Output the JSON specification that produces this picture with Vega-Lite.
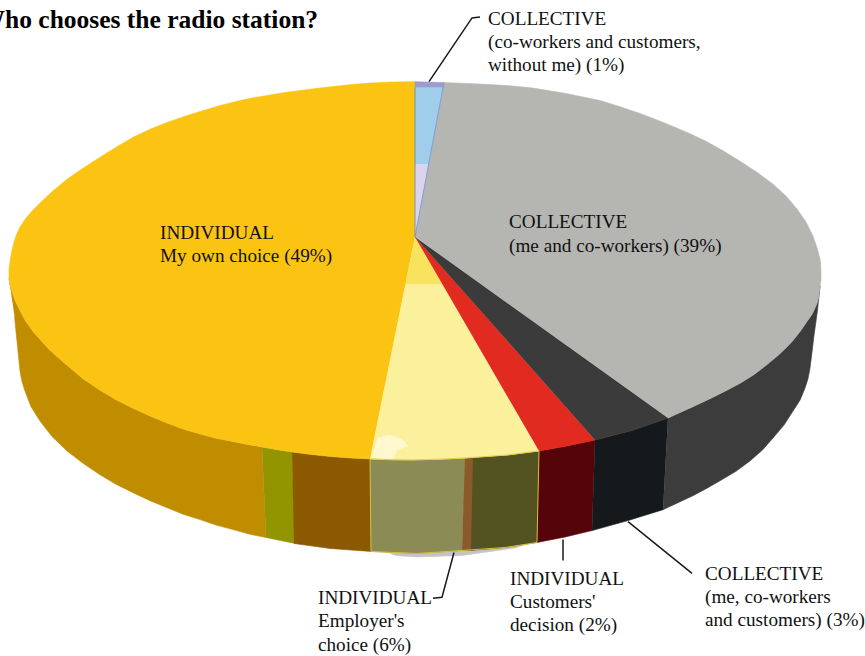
{
"$schema":"https://vega.github.io/schema/vega-lite/v6.json",
"width":865,"height":656,"padding":0,
"autosize":{"type":"fit","contains":"padding"},
"background":"white",
"config":{"view":{"stroke":null}},
"datasets":{
"surfaces":[
{"part":"shadow","seq":0,"x":385,"y":554},{"part":"shadow","seq":1,"x":417,"y":556},{"part":"shadow","seq":2,"x":462,"y":553},{"part":"shadow","seq":3,"x":525,"y":547},{"part":"shadow","seq":4,"x":515,"y":550.5},{"part":"shadow","seq":5,"x":462,"y":558},{"part":"shadow","seq":6,"x":417,"y":559.5},{"part":"shadow","seq":7,"x":395,"y":558},
{"part":"side own choice","seq":0,"x":9,"y":280},{"part":"side own choice","seq":1,"x":10.3,"y":287},{"part":"side own choice","seq":2,"x":12,"y":293},{"part":"side own choice","seq":3,"x":15.5,"y":303},{"part":"side own choice","seq":4,"x":20,"y":312},{"part":"side own choice","seq":5,"x":25.5,"y":322.5},{"part":"side own choice","seq":6,"x":33,"y":333},{"part":"side own choice","seq":7,"x":49,"y":351},{"part":"side own choice","seq":8,"x":67,"y":367},{"part":"side own choice","seq":9,"x":83,"y":380.5},{"part":"side own choice","seq":10,"x":100,"y":392},{"part":"side own choice","seq":11,"x":116,"y":401.5},{"part":"side own choice","seq":12,"x":133,"y":410},{"part":"side own choice","seq":13,"x":150,"y":418},{"part":"side own choice","seq":14,"x":167,"y":425},{"part":"side own choice","seq":15,"x":183,"y":431},{"part":"side own choice","seq":16,"x":200,"y":436},{"part":"side own choice","seq":17,"x":215,"y":440},{"part":"side own choice","seq":18,"x":230,"y":443},{"part":"side own choice","seq":19,"x":246,"y":446.2},{"part":"side own choice","seq":20,"x":262,"y":449},
{"part":"side own choice","seq":21,"x":266,"y":540},{"part":"side own choice","seq":22,"x":249,"y":536.5},{"part":"side own choice","seq":23,"x":233,"y":532},{"part":"side own choice","seq":24,"x":216,"y":527.5},{"part":"side own choice","seq":25,"x":200,"y":522},{"part":"side own choice","seq":26,"x":183,"y":516.5},{"part":"side own choice","seq":27,"x":167,"y":510},{"part":"side own choice","seq":28,"x":150,"y":503},{"part":"side own choice","seq":29,"x":133,"y":495},{"part":"side own choice","seq":30,"x":116,"y":486.5},{"part":"side own choice","seq":31,"x":100,"y":477},{"part":"side own choice","seq":32,"x":83,"y":465.5},{"part":"side own choice","seq":33,"x":67,"y":453},{"part":"side own choice","seq":34,"x":52,"y":438.5},{"part":"side own choice","seq":35,"x":40,"y":423},{"part":"side own choice","seq":36,"x":31,"y":408.5},{"part":"side own choice","seq":37,"x":25,"y":393},{"part":"side own choice","seq":38,"x":22,"y":383.5},{"part":"side own choice","seq":39,"x":20,"y":373},{"part":"side own choice","seq":40,"x":18.5,"y":358},{"part":"side own choice","seq":41,"x":17,"y":343},{"part":"side own choice","seq":42,"x":14.5,"y":318},
{"part":"side green","seq":0,"x":262,"y":449},{"part":"side green","seq":1,"x":277,"y":451.8},{"part":"side green","seq":2,"x":292,"y":454},{"part":"side green","seq":3,"x":295,"y":546},{"part":"side green","seq":4,"x":266,"y":540},
{"part":"side brown","seq":0,"x":292,"y":454},{"part":"side brown","seq":1,"x":311,"y":456.5},{"part":"side brown","seq":2,"x":330,"y":458.5},{"part":"side brown","seq":3,"x":350,"y":460},{"part":"side brown","seq":4,"x":370,"y":461},{"part":"side brown","seq":5,"x":371,"y":554},{"part":"side brown","seq":6,"x":330,"y":551},{"part":"side brown","seq":7,"x":294,"y":546},
{"part":"side employer","seq":0,"x":370,"y":461},{"part":"side employer","seq":1,"x":392,"y":461.8},{"part":"side employer","seq":2,"x":413,"y":462},{"part":"side employer","seq":3,"x":440,"y":461.3},{"part":"side employer","seq":4,"x":466,"y":460},{"part":"side employer","seq":5,"x":462,"y":553},{"part":"side employer","seq":6,"x":417,"y":556},{"part":"side employer","seq":7,"x":371,"y":554},
{"part":"side stripe","seq":0,"x":465,"y":460},{"part":"side stripe","seq":1,"x":474,"y":459.5},{"part":"side stripe","seq":2,"x":472,"y":553},{"part":"side stripe","seq":3,"x":462,"y":553},
{"part":"side olive","seq":0,"x":473,"y":459.5},{"part":"side olive","seq":1,"x":508,"y":457},{"part":"side olive","seq":2,"x":539,"y":453},{"part":"side olive","seq":3,"x":537,"y":545},{"part":"side olive","seq":4,"x":505,"y":550},{"part":"side olive","seq":5,"x":471,"y":553},
{"part":"side customers","seq":0,"x":539,"y":453},{"part":"side customers","seq":1,"x":567,"y":448},{"part":"side customers","seq":2,"x":595,"y":442},{"part":"side customers","seq":3,"x":592,"y":533},{"part":"side customers","seq":4,"x":565,"y":539.5},{"part":"side customers","seq":5,"x":537,"y":545},
{"part":"side collective front","seq":0,"x":595,"y":442},{"part":"side collective front","seq":1,"x":632,"y":432.5},{"part":"side collective front","seq":2,"x":668,"y":420},{"part":"side collective front","seq":3,"x":663,"y":512},{"part":"side collective front","seq":4,"x":628,"y":523},{"part":"side collective front","seq":5,"x":592,"y":533},
{"part":"side coworkers","seq":0,"x":668,"y":420},{"part":"side coworkers","seq":1,"x":680,"y":414.5},{"part":"side coworkers","seq":2,"x":693,"y":408.5},{"part":"side coworkers","seq":3,"x":710,"y":400.5},{"part":"side coworkers","seq":4,"x":727,"y":392},{"part":"side coworkers","seq":5,"x":741,"y":384.5},{"part":"side coworkers","seq":6,"x":753,"y":377},{"part":"side coworkers","seq":7,"x":765.5,"y":367.5},{"part":"side coworkers","seq":8,"x":777,"y":358},{"part":"side coworkers","seq":9,"x":785.5,"y":350},{"part":"side coworkers","seq":10,"x":793,"y":342},{"part":"side coworkers","seq":11,"x":800.5,"y":332.5},{"part":"side coworkers","seq":12,"x":807,"y":323},{"part":"side coworkers","seq":13,"x":812.5,"y":315},{"part":"side coworkers","seq":14,"x":817,"y":305},{"part":"side coworkers","seq":15,"x":819,"y":297},{"part":"side coworkers","seq":16,"x":820,"y":287},
{"part":"side coworkers","seq":17,"x":817.5,"y":312},{"part":"side coworkers","seq":18,"x":814,"y":337},{"part":"side coworkers","seq":19,"x":812,"y":354},{"part":"side coworkers","seq":20,"x":810,"y":370},{"part":"side coworkers","seq":21,"x":808,"y":380.5},{"part":"side coworkers","seq":22,"x":805,"y":390},{"part":"side coworkers","seq":23,"x":800,"y":402},{"part":"side coworkers","seq":24,"x":793,"y":413},{"part":"side coworkers","seq":25,"x":784,"y":427},{"part":"side coworkers","seq":26,"x":773,"y":440},{"part":"side coworkers","seq":27,"x":762.5,"y":452},{"part":"side coworkers","seq":28,"x":750,"y":463},{"part":"side coworkers","seq":29,"x":736,"y":473.5},{"part":"side coworkers","seq":30,"x":720,"y":483},{"part":"side coworkers","seq":31,"x":707,"y":490.5},{"part":"side coworkers","seq":32,"x":693,"y":498},{"part":"side coworkers","seq":33,"x":678,"y":505},{"part":"side coworkers","seq":34,"x":663,"y":512},
{"part":"top own choice","seq":0,"x":415,"y":238},{"part":"top own choice","seq":1,"x":370,"y":461},{"part":"top own choice","seq":2,"x":350,"y":460},{"part":"top own choice","seq":3,"x":330,"y":458.5},{"part":"top own choice","seq":4,"x":311,"y":456.5},{"part":"top own choice","seq":5,"x":292,"y":454},{"part":"top own choice","seq":6,"x":277,"y":451.8},{"part":"top own choice","seq":7,"x":262,"y":449},{"part":"top own choice","seq":8,"x":246,"y":446.2},{"part":"top own choice","seq":9,"x":230,"y":443},{"part":"top own choice","seq":10,"x":215,"y":440},{"part":"top own choice","seq":11,"x":200,"y":436},{"part":"top own choice","seq":12,"x":183,"y":431},{"part":"top own choice","seq":13,"x":167,"y":425},{"part":"top own choice","seq":14,"x":150,"y":418},{"part":"top own choice","seq":15,"x":133,"y":410},{"part":"top own choice","seq":16,"x":116,"y":401.5},{"part":"top own choice","seq":17,"x":100,"y":392},{"part":"top own choice","seq":18,"x":83,"y":380.5},{"part":"top own choice","seq":19,"x":67,"y":367},{"part":"top own choice","seq":20,"x":49,"y":351},{"part":"top own choice","seq":21,"x":33,"y":333},{"part":"top own choice","seq":22,"x":25.5,"y":322.5},{"part":"top own choice","seq":23,"x":20,"y":312},{"part":"top own choice","seq":24,"x":15.5,"y":303},{"part":"top own choice","seq":25,"x":12,"y":293},{"part":"top own choice","seq":26,"x":10.3,"y":287},{"part":"top own choice","seq":27,"x":9,"y":280},
{"part":"top own choice","seq":28,"x":9,"y":270},{"part":"top own choice","seq":29,"x":10.6,"y":259},{"part":"top own choice","seq":30,"x":13,"y":247},{"part":"top own choice","seq":31,"x":15.9,"y":237.2},{"part":"top own choice","seq":32,"x":20,"y":228},{"part":"top own choice","seq":33,"x":26,"y":219},{"part":"top own choice","seq":34,"x":33,"y":211},{"part":"top own choice","seq":35,"x":41,"y":203},{"part":"top own choice","seq":36,"x":50,"y":194.5},{"part":"top own choice","seq":37,"x":58,"y":187.5},{"part":"top own choice","seq":38,"x":67,"y":180},{"part":"top own choice","seq":39,"x":82.5,"y":169.3},{"part":"top own choice","seq":40,"x":100,"y":158},{"part":"top own choice","seq":41,"x":116.5,"y":147.6},{"part":"top own choice","seq":42,"x":133,"y":138},{"part":"top own choice","seq":43,"x":150,"y":129.9},{"part":"top own choice","seq":44,"x":167,"y":123},{"part":"top own choice","seq":45,"x":183.5,"y":117.3},{"part":"top own choice","seq":46,"x":200,"y":112},{"part":"top own choice","seq":47,"x":220,"y":106.1},{"part":"top own choice","seq":48,"x":240,"y":101},{"part":"top own choice","seq":49,"x":253,"y":98.3},{"part":"top own choice","seq":50,"x":267,"y":96},{"part":"top own choice","seq":51,"x":283,"y":93.3},{"part":"top own choice","seq":52,"x":300,"y":91},{"part":"top own choice","seq":53,"x":316,"y":88.9},{"part":"top own choice","seq":54,"x":333,"y":87},{"part":"top own choice","seq":55,"x":351,"y":85},{"part":"top own choice","seq":56,"x":370,"y":83.5},{"part":"top own choice","seq":57,"x":392,"y":82.4},{"part":"top own choice","seq":58,"x":415,"y":82},
{"part":"top employer","seq":0,"x":415,"y":238},{"part":"top employer","seq":1,"x":539,"y":453},{"part":"top employer","seq":2,"x":508,"y":457},{"part":"top employer","seq":3,"x":466,"y":460},{"part":"top employer","seq":4,"x":440,"y":461.3},{"part":"top employer","seq":5,"x":413,"y":462},{"part":"top employer","seq":6,"x":392,"y":461.8},{"part":"top employer","seq":7,"x":370,"y":461},
{"part":"top employer band","seq":0,"x":415,"y":238},{"part":"top employer band","seq":1,"x":441.5,"y":285},{"part":"top employer band","seq":2,"x":405.7,"y":285},
{"part":"top glare","seq":0,"x":372,"y":460},{"part":"top glare","seq":1,"x":378,"y":440},{"part":"top glare","seq":2,"x":390,"y":437},{"part":"top glare","seq":3,"x":403,"y":442},{"part":"top glare","seq":4,"x":408,"y":448},{"part":"top glare","seq":5,"x":397,"y":452},{"part":"top glare","seq":6,"x":393,"y":461},
{"part":"top customers","seq":0,"x":415,"y":238},{"part":"top customers","seq":1,"x":595,"y":442},{"part":"top customers","seq":2,"x":567,"y":448},{"part":"top customers","seq":3,"x":539,"y":453},
{"part":"top collective front","seq":0,"x":415,"y":238},{"part":"top collective front","seq":1,"x":668,"y":420},{"part":"top collective front","seq":2,"x":632,"y":432.5},{"part":"top collective front","seq":3,"x":595,"y":442},
{"part":"top coworkers","seq":0,"x":415,"y":238},{"part":"top coworkers","seq":1,"x":444,"y":83},{"part":"top coworkers","seq":2,"x":467,"y":83.8},{"part":"top coworkers","seq":3,"x":490,"y":85},{"part":"top coworkers","seq":4,"x":512,"y":86.3},{"part":"top coworkers","seq":5,"x":533,"y":88.5},{"part":"top coworkers","seq":6,"x":566,"y":93.9},{"part":"top coworkers","seq":7,"x":600,"y":101},{"part":"top coworkers","seq":8,"x":620,"y":107.2},{"part":"top coworkers","seq":9,"x":640,"y":114},{"part":"top coworkers","seq":10,"x":656.5,"y":120.3},{"part":"top coworkers","seq":11,"x":673,"y":127},{"part":"top coworkers","seq":12,"x":690,"y":134.3},{"part":"top coworkers","seq":13,"x":707,"y":142.5},{"part":"top coworkers","seq":14,"x":723.5,"y":151.8},{"part":"top coworkers","seq":15,"x":740,"y":162},{"part":"top coworkers","seq":16,"x":757,"y":173},{"part":"top coworkers","seq":17,"x":773,"y":185},{"part":"top coworkers","seq":18,"x":786,"y":197},{"part":"top coworkers","seq":19,"x":797,"y":210},{"part":"top coworkers","seq":20,"x":806,"y":223},{"part":"top coworkers","seq":21,"x":813,"y":237},{"part":"top coworkers","seq":22,"x":817,"y":249},{"part":"top coworkers","seq":23,"x":820,"y":260},{"part":"top coworkers","seq":24,"x":820.8,"y":268},{"part":"top coworkers","seq":25,"x":821,"y":275},{"part":"top coworkers","seq":26,"x":821,"y":281},{"part":"top coworkers","seq":27,"x":820,"y":287},{"part":"top coworkers","seq":28,"x":819,"y":297},{"part":"top coworkers","seq":29,"x":817,"y":305},{"part":"top coworkers","seq":30,"x":812.5,"y":315},{"part":"top coworkers","seq":31,"x":807,"y":323},{"part":"top coworkers","seq":32,"x":800.5,"y":332.5},{"part":"top coworkers","seq":33,"x":793,"y":342},{"part":"top coworkers","seq":34,"x":785.5,"y":350},{"part":"top coworkers","seq":35,"x":777,"y":358},{"part":"top coworkers","seq":36,"x":765.5,"y":367.5},{"part":"top coworkers","seq":37,"x":753,"y":377},{"part":"top coworkers","seq":38,"x":741,"y":384.5},{"part":"top coworkers","seq":39,"x":727,"y":392},{"part":"top coworkers","seq":40,"x":710,"y":400.5},{"part":"top coworkers","seq":41,"x":693,"y":408.5},{"part":"top coworkers","seq":42,"x":680,"y":414.5},{"part":"top coworkers","seq":43,"x":668,"y":420},
{"part":"top lavender","seq":0,"x":415,"y":238},{"part":"top lavender","seq":1,"x":415,"y":165},{"part":"top lavender","seq":2,"x":428.7,"y":165},
{"part":"top blue","seq":0,"x":415,"y":165},{"part":"top blue","seq":1,"x":415,"y":88},{"part":"top blue","seq":2,"x":443,"y":88},{"part":"top blue","seq":3,"x":428.7,"y":165},
{"part":"top purple","seq":0,"x":415,"y":88},{"part":"top purple","seq":1,"x":415,"y":82},{"part":"top purple","seq":2,"x":444,"y":83},{"part":"top purple","seq":3,"x":443,"y":88}
],
"edges":[
{"edge":"wedge blue","seq":0,"x":415,"y":238},{"edge":"wedge blue","seq":1,"x":444,"y":83},
{"edge":"wedge grey","seq":0,"x":415,"y":238},{"edge":"wedge grey","seq":1,"x":415,"y":88},
{"edge":"employer left","seq":0,"x":370,"y":461},{"edge":"employer left","seq":1,"x":371,"y":554},{"edge":"employer left","seq":2,"x":417,"y":556},{"edge":"employer left","seq":3,"x":462,"y":553},{"edge":"employer left","seq":4,"x":505,"y":550},{"edge":"employer left","seq":5,"x":537,"y":545},{"edge":"employer left","seq":6,"x":539,"y":453},
{"edge":"employer top","seq":0,"x":370,"y":461},{"edge":"employer top","seq":1,"x":392,"y":461.8},{"edge":"employer top","seq":2,"x":413,"y":462},{"edge":"employer top","seq":3,"x":440,"y":461.3},{"edge":"employer top","seq":4,"x":466,"y":460},{"edge":"employer top","seq":5,"x":508,"y":457},{"edge":"employer top","seq":6,"x":539,"y":453}
],
"leaders":[
{"label":"co-workers and customers","seq":0,"x":429,"y":82},{"label":"co-workers and customers","seq":1,"x":472,"y":18},{"label":"co-workers and customers","seq":2,"x":480,"y":17},
{"label":"employer","seq":0,"x":454,"y":555},{"label":"employer","seq":1,"x":442,"y":600},{"label":"employer","seq":2,"x":433,"y":601},
{"label":"customers","seq":0,"x":563,"y":542},{"label":"customers","seq":1,"x":563,"y":563},
{"label":"me, co-workers and customers","seq":0,"x":628,"y":524},{"label":"me, co-workers and customers","seq":1,"x":692,"y":576}
],
"labels":[
{"text":"INDIVIDUAL","x":160,"y":240},{"text":"My own choice (49%)","x":160,"y":263},
{"text":"COLLECTIVE","x":509,"y":229},{"text":"(me and co-workers) (39%)","x":509,"y":253},
{"text":"COLLECTIVE","x":488,"y":25},{"text":"(co-workers and customers,","x":488,"y":48},{"text":"without me) (1%)","x":488,"y":71},
{"text":"INDIVIDUAL","x":318,"y":607},{"text":"Employer's","x":318,"y":630},{"text":"choice (6%)","x":318,"y":654},
{"text":"INDIVIDUAL","x":510,"y":588},{"text":"Customers'","x":510,"y":611},{"text":"decision (2%)","x":510,"y":634},
{"text":"COLLECTIVE","x":705,"y":583},{"text":"(me, co-workers","x":705,"y":606},{"text":"and customers) (3%)","x":705,"y":629}
],
"heading":[{"text":"Who chooses the radio station?","x":-20.5,"y":28}]
},
"layer":[
{"data":{"name":"surfaces"},
 "mark":{"type":"line","filled":true,"strokeWidth":0.6,"strokeJoin":"round"},
 "encoding":{
  "x":{"field":"x","type":"quantitative","axis":null,"scale":{"domain":[0,865],"nice":false,"zero":false}},
  "y":{"field":"y","type":"quantitative","axis":null,"scale":{"domain":[0,656],"nice":false,"zero":false,"reverse":true}},
  "order":{"field":"seq","type":"quantitative"},
  "fill":{"field":"part","type":"nominal","legend":null,"sort":null,"scale":{
   "domain":["shadow","side own choice","side green","side brown","side employer","side stripe","side olive","side customers","side collective front","side coworkers","top own choice","top employer","top employer band","top glare","top customers","top collective front","top coworkers","top lavender","top blue","top purple"],
   "range":["#c4c4c4","#c08c00","#929400","#8b5a00","#8b8c55","#8a5a2a","#525320","#55040a","#15191b","#3c3c3c","#fbc412","#fbf09b","#f8e25e","#fff8cf","#e12b20","#3b3b3b","#b5b5b2","#dcd4ee","#9fcdea","#9d9bd0"]}},
  "stroke":{"field":"part","type":"nominal","legend":null,"sort":null,"scale":{
   "domain":["shadow","side own choice","side green","side brown","side employer","side stripe","side olive","side customers","side collective front","side coworkers","top own choice","top employer","top employer band","top glare","top customers","top collective front","top coworkers","top lavender","top blue","top purple"],
   "range":["#c4c4c4","#c08c00","#929400","#8b5a00","#8b8c55","#8a5a2a","#525320","#55040a","#15191b","#3c3c3c","#fbc412","#fbf09b","#f8e25e","#fff8cf","#e12b20","#3b3b3b","#b5b5b2","#dcd4ee","#9fcdea","#9d9bd0"]}}
 }},
{"data":{"name":"edges"},
 "mark":{"type":"line","strokeWidth":1},
 "encoding":{
  "x":{"field":"x","type":"quantitative"},
  "y":{"field":"y","type":"quantitative"},
  "order":{"field":"seq","type":"quantitative"},
  "color":{"field":"edge","type":"nominal","legend":null,"scale":{
   "domain":["wedge blue","wedge grey","employer left","employer top"],
   "range":["#7d9fd2","#7f9488","#d8bd3a","#e8cf45"]}}
 }},
{"data":{"name":"leaders"},
 "mark":{"type":"line","strokeWidth":1.5,"color":"#1a1a1a"},
 "encoding":{
  "x":{"field":"x","type":"quantitative"},
  "y":{"field":"y","type":"quantitative"},
  "order":{"field":"seq","type":"quantitative"},
  "detail":{"field":"label","type":"nominal"}
 }},
{"data":{"name":"labels"},
 "mark":{"type":"text","align":"left","baseline":"alphabetic","font":"Liberation Serif","fontSize":19.2,"color":"#111111"},
 "encoding":{
  "x":{"field":"x","type":"quantitative"},
  "y":{"field":"y","type":"quantitative"},
  "text":{"field":"text"}
 }},
{"data":{"name":"heading"},
 "mark":{"type":"text","align":"left","baseline":"alphabetic","font":"Liberation Serif","fontSize":25.5,"fontWeight":"bold","color":"#000000","clip":true},
 "encoding":{
  "x":{"field":"x","type":"quantitative"},
  "y":{"field":"y","type":"quantitative"},
  "text":{"field":"text"}
 }}
]
}
